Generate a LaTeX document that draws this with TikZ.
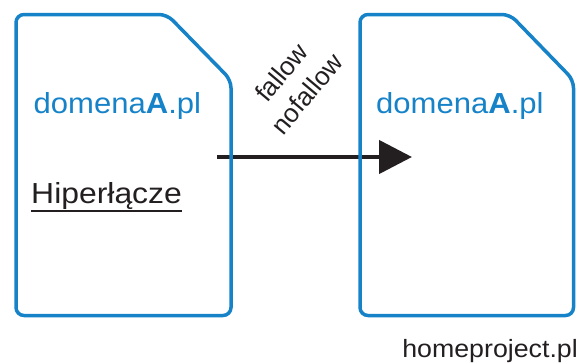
\documentclass[tikz,border=0pt]{standalone}
\usepackage{fontspec}
\setmainfont{Liberation Sans}
\usetikzlibrary{arrows.meta}
\definecolor{pageblue}{RGB}{22,130,200}
\definecolor{inkblack}{RGB}{35,31,32}

\begin{document}
\begin{tikzpicture}[x=1pt, y=-1pt,
      page/.style={draw=pageblue, line width=3.5pt, rounded corners=8pt},
      domainlabel/.style={anchor=base west, inner sep=0pt, text=pageblue,
                     font=\fontsize{29}{35}\selectfont, xscale=1.07},
      plain/.style={inner sep=0pt, text=inkblack},
      link/.style={draw=inkblack, line width=4.5pt, -{Triangle[length=33pt, width=33pt]}}]
      \useasboundingbox (0, 0) rectangle (581, 364);
      \coordinate (linkstart) at (217, 157);
      \coordinate (linkend) at (412, 157);
      \draw [link] (linkstart) -- (linkend);
      \draw [page] (167, 14.5) -- (16, 14.5) -- (16, 315.5) -- (231, 315.5) -- (231, 80) -- cycle
                   (510, 14.5) -- (360, 14.5) -- (360, 315.5) -- (573.5, 315.5) -- (573.5, 80) -- cycle;
      \node [domainlabel] (srcdomain) at (33.5, 113) {domena\textbf{A}.pl};
      \node [domainlabel] (dstdomain) at (376, 113) {domena\textbf{A}.pl};
      \node [plain, anchor=base west, font=\fontsize{29}{35}\selectfont, xscale=1.1]
            (anchortext) at (31, 203) {Hiperłącze};
      \draw [inkblack, line width=1.6pt] ([yshift=-8pt]anchortext.base west) -- ([yshift=-8pt]anchortext.base east);
      \node [plain, rotate=50, align=center, font=\fontsize{26}{33}\selectfont]
            (relattr) at (294, 83) {fallow\\nofallow};
      \node [plain, anchor=base east, font=\fontsize{25}{30}\selectfont, xscale=1.07]
            (site) at (578, 357) {homeproject.pl};
\end{tikzpicture}
\end{document}
